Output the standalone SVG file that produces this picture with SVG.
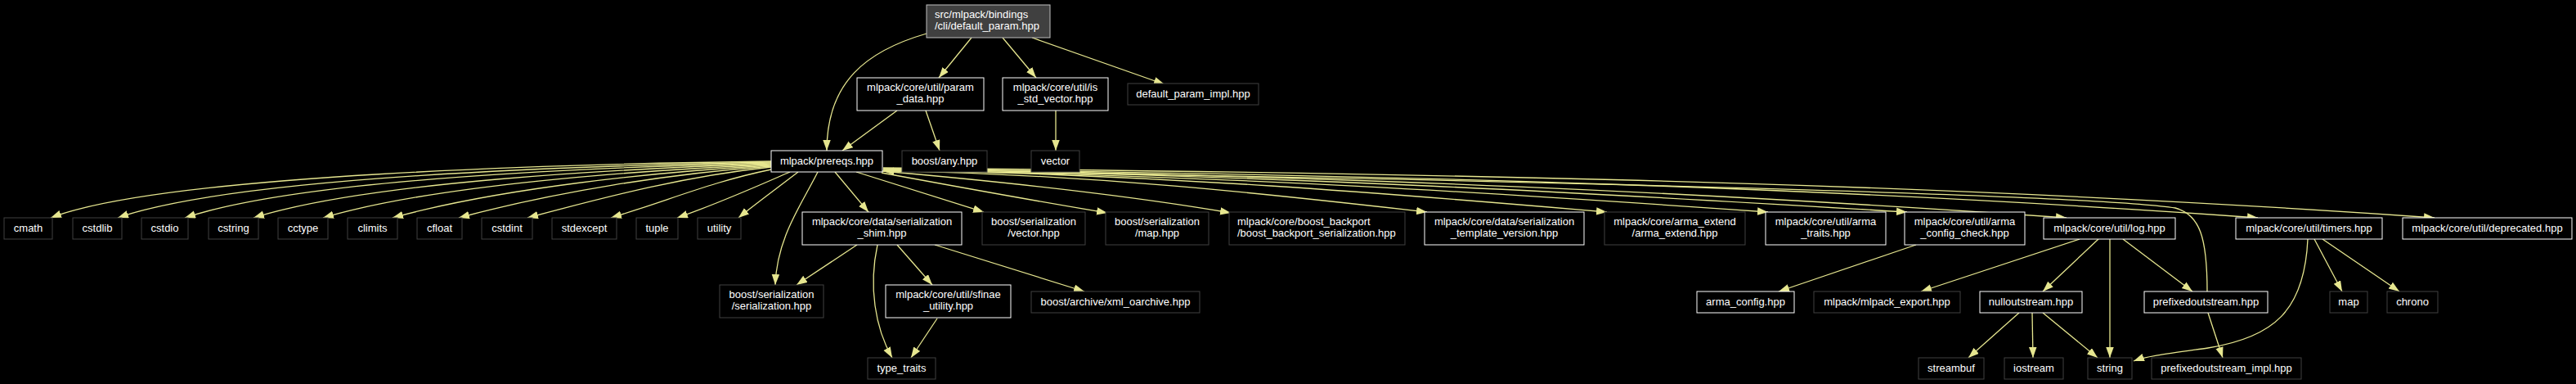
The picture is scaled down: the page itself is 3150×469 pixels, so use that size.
<svg xmlns="http://www.w3.org/2000/svg" width="3150" height="469" viewBox="0 0 3150 469">
<style>
text{font-family:"Liberation Sans",Arial,Helvetica,sans-serif;font-size:13px;fill:#ffffff;text-anchor:middle}
.w{fill:#000000;stroke:#ffffff;stroke-width:1}
.g{fill:#000000;stroke:#404040;stroke-width:1}
.r{fill:#404040;stroke:#bfbfbf;stroke-width:1}
.e{fill:none;stroke:#e6e68f;stroke-width:1.3;marker-end:url(#ah)}
</style>
<defs>
<marker id="ah" markerWidth="14" markerHeight="11" refX="13" refY="4.75" orient="auto" markerUnits="userSpaceOnUse"><path d="M0,0 L13,4.75 L0,9.5 z" fill="#e6e68f"/></marker>
</defs>
<rect x="0" y="0" width="3150" height="469" fill="#000000"/>
<g id="edges">
<path class="e" d="M1133,41 C1060,62 1011,100 1011,184"/>
<path class="e" d="M1188,46 L1148,95"/>
<path class="e" d="M1226,46 L1267,95"/>
<path class="e" d="M1262,46 L1424,103"/>
<path class="e" d="M1097,135 L1030,184"/>
<path class="e" d="M1132,135 L1149,184"/>
<path class="e" d="M1291,135 L1291,184"/>
<path class="e" d="M943,197 C700,200 200,213 62,266"/>
<path class="e" d="M943,198 C720,202 290,215 144,266"/>
<path class="e" d="M943,199 C740,204 370,218 226,266"/>
<path class="e" d="M943,200 C760,206 450,222 310,266"/>
<path class="e" d="M943,201 C780,208 530,226 395,266"/>
<path class="e" d="M943,202 C800,210 610,230 480,266"/>
<path class="e" d="M943,203 C820,212 680,234 561,266"/>
<path class="e" d="M943,204 C840,215 750,238 645,266"/>
<path class="e" d="M943,207 C870,222 820,244 747,266"/>
<path class="e" d="M966,210 C920,230 880,248 828,266"/>
<path class="e" d="M976,210 C950,230 925,248 903,266"/>
<path class="e" d="M1000,210 C980,250 950,290 948,348"/>
<path class="e" d="M1021,210 L1062,259"/>
<path class="e" d="M1047,210 L1203,259"/>
<path class="e" d="M1078,211 C1170,228 1270,246 1354,260"/>
<path class="e" d="M1079,209 C1250,224 1400,242 1505,260"/>
<path class="e" d="M1080,208 C1345,214 1543,236 1745,259"/>
<path class="e" d="M1080,207 C1432,214 1696,236 1965,259"/>
<path class="e" d="M1080,207 C1511,215 1834,236 2162,259"/>
<path class="e" d="M1080,206 C1579,215 1953,236 2332,259"/>
<path class="e" d="M1080,206 C1659,215 2093,236 2527,266"/>
<path class="e" d="M1080,206 C1752,214 2257,230 2761,266"/>
<path class="e" d="M1080,205 C1839,212 2408,226 2977,266"/>
<path class="e" d="M2699,356 C2699,290 2690,262 2660,254 C2550,236 1600,214 1080,209"/>
<path class="e" d="M1048,299 L974,348"/>
<path class="e" d="M1073,299 C1062,350 1070,400 1091,437"/>
<path class="e" d="M1097,299 L1140,348"/>
<path class="e" d="M1143,299 L1326,356"/>
<path class="e" d="M1146,389 L1114,437"/>
<path class="e" d="M2343,299 L2175,356"/>
<path class="e" d="M2543,292 L2349,356"/>
<path class="e" d="M2566,292 L2498,356"/>
<path class="e" d="M2580,292 L2580,437"/>
<path class="e" d="M2596,292 L2681,356"/>
<path class="e" d="M2469,382 L2407,437"/>
<path class="e" d="M2485,382 L2486,437"/>
<path class="e" d="M2498,382 L2565,437"/>
<path class="e" d="M2700,382 L2718,437"/>
<path class="e" d="M2822,292 C2818,380 2780,412 2700,425 C2650,432 2625,435 2609,441"/>
<path class="e" d="M2830,292 L2864,356"/>
<path class="e" d="M2840,292 L2934,356"/>
</g>
<g id="n_root"><rect class="r" x="1133" y="6" width="151" height="40"/><text x="1143" y="21.5" style="text-anchor:start">src/mlpack/bindings</text><text x="1143" y="36" style="text-anchor:start">/cli/default_param.hpp</text></g>
<g id="n_param_data"><rect class="w" x="1048" y="95" width="155" height="40"/><text x="1125.5" y="110.5">mlpack/core/util/param</text><text x="1125.5" y="125">_data.hpp</text></g>
<g id="n_is_std_vector"><rect class="w" x="1226" y="95" width="129" height="40"/><text x="1290.5" y="110.5">mlpack/core/util/is</text><text x="1290.5" y="125">_std_vector.hpp</text></g>
<g id="n_default_param_impl"><rect class="g" x="1379" y="102" width="160" height="26"/><text x="1459" y="119">default_param_impl.hpp</text></g>
<g id="n_prereqs"><rect class="w" x="943" y="184" width="136" height="26"/><text x="1011" y="201">mlpack/prereqs.hpp</text></g>
<g id="n_boost_any"><rect class="g" x="1103" y="184" width="104" height="26"/><text x="1155" y="201">boost/any.hpp</text></g>
<g id="n_vector"><rect class="g" x="1261" y="184" width="59" height="26"/><text x="1290.5" y="201">vector</text></g>
<g id="n_cmath"><rect class="g" x="5" y="266" width="59" height="26"/><text x="34.5" y="283">cmath</text></g>
<g id="n_cstdlib"><rect class="g" x="89" y="266" width="60" height="26"/><text x="119" y="283">cstdlib</text></g>
<g id="n_cstdio"><rect class="g" x="173" y="266" width="57" height="26"/><text x="201.5" y="283">cstdio</text></g>
<g id="n_cstring"><rect class="g" x="255" y="266" width="61" height="26"/><text x="285.5" y="283">cstring</text></g>
<g id="n_cctype"><rect class="g" x="340" y="266" width="61" height="26"/><text x="370.5" y="283">cctype</text></g>
<g id="n_climits"><rect class="g" x="425" y="266" width="61" height="26"/><text x="455.5" y="283">climits</text></g>
<g id="n_cfloat"><rect class="g" x="510" y="266" width="55" height="26"/><text x="537.5" y="283">cfloat</text></g>
<g id="n_cstdint"><rect class="g" x="589" y="266" width="62" height="26"/><text x="620" y="283">cstdint</text></g>
<g id="n_stdexcept"><rect class="g" x="675" y="266" width="79" height="26"/><text x="714.5" y="283">stdexcept</text></g>
<g id="n_tuple"><rect class="g" x="778" y="266" width="51" height="26"/><text x="803.5" y="283">tuple</text></g>
<g id="n_utility"><rect class="g" x="853" y="266" width="53" height="26"/><text x="879.5" y="283">utility</text></g>
<g id="n_shim"><rect class="w" x="981" y="259" width="195" height="40"/><text x="1078.5" y="274.5">mlpack/core/data/serialization</text><text x="1078.5" y="289">_shim.hpp</text></g>
<g id="n_bs_vector"><rect class="g" x="1201" y="259" width="126" height="40"/><text x="1264" y="274.5">boost/serialization</text><text x="1264" y="289">/vector.hpp</text></g>
<g id="n_bs_map"><rect class="g" x="1352" y="259" width="126" height="40"/><text x="1415" y="274.5">boost/serialization</text><text x="1415" y="289">/map.hpp</text></g>
<g id="n_boost_backport"><rect class="g" x="1503" y="259" width="215" height="40"/><text x="1513" y="274.5" style="text-anchor:start">mlpack/core/boost_backport</text><text x="1513" y="289" style="text-anchor:start">/boost_backport_serialization.hpp</text></g>
<g id="n_template_version"><rect class="w" x="1742" y="259" width="195" height="40"/><text x="1839.5" y="274.5">mlpack/core/data/serialization</text><text x="1839.5" y="289">_template_version.hpp</text></g>
<g id="n_arma_extend"><rect class="g" x="1962" y="259" width="172" height="40"/><text x="2048" y="274.5">mlpack/core/arma_extend</text><text x="2048" y="289">/arma_extend.hpp</text></g>
<g id="n_arma_traits"><rect class="w" x="2159" y="259" width="147" height="40"/><text x="2232.5" y="274.5">mlpack/core/util/arma</text><text x="2232.5" y="289">_traits.hpp</text></g>
<g id="n_arma_config_check"><rect class="w" x="2329" y="259" width="147" height="40"/><text x="2402.5" y="274.5">mlpack/core/util/arma</text><text x="2402.5" y="289">_config_check.hpp</text></g>
<g id="n_log"><rect class="w" x="2499" y="266" width="161" height="26"/><text x="2579.5" y="283">mlpack/core/util/log.hpp</text></g>
<g id="n_timers"><rect class="w" x="2734" y="266" width="179" height="26"/><text x="2823.5" y="283">mlpack/core/util/timers.hpp</text></g>
<g id="n_deprecated"><rect class="w" x="2938" y="266" width="207" height="26"/><text x="3041.5" y="283">mlpack/core/util/deprecated.hpp</text></g>
<g id="n_bs_serialization"><rect class="g" x="880" y="348" width="127" height="40"/><text x="943.5" y="363.5">boost/serialization</text><text x="943.5" y="378">/serialization.hpp</text></g>
<g id="n_sfinae"><rect class="w" x="1083" y="348" width="153" height="40"/><text x="1159.5" y="363.5">mlpack/core/util/sfinae</text><text x="1159.5" y="378">_utility.hpp</text></g>
<g id="n_xml_oarchive"><rect class="g" x="1261" y="356" width="206" height="26"/><text x="1364" y="373">boost/archive/xml_oarchive.hpp</text></g>
<g id="n_arma_config"><rect class="w" x="2075" y="356" width="119" height="26"/><text x="2134.5" y="373">arma_config.hpp</text></g>
<g id="n_mlpack_export"><rect class="g" x="2218" y="356" width="179" height="26"/><text x="2307.5" y="373">mlpack/mlpack_export.hpp</text></g>
<g id="n_nulloutstream"><rect class="w" x="2421" y="356" width="125" height="26"/><text x="2483.5" y="373">nulloutstream.hpp</text></g>
<g id="n_prefixedoutstream"><rect class="w" x="2622" y="356" width="151" height="26"/><text x="2697.5" y="373">prefixedoutstream.hpp</text></g>
<g id="n_map"><rect class="g" x="2849" y="356" width="46" height="26"/><text x="2872" y="373">map</text></g>
<g id="n_chrono"><rect class="g" x="2919" y="356" width="62" height="26"/><text x="2950" y="373">chrono</text></g>
<g id="n_type_traits"><rect class="g" x="1061" y="437" width="83" height="26"/><text x="1102.5" y="454">type_traits</text></g>
<g id="n_streambuf"><rect class="g" x="2346" y="437" width="80" height="26"/><text x="2386" y="454">streambuf</text></g>
<g id="n_iostream"><rect class="g" x="2451" y="437" width="72" height="26"/><text x="2487" y="454">iostream</text></g>
<g id="n_string"><rect class="g" x="2553" y="437" width="54" height="26"/><text x="2580" y="454">string</text></g>
<g id="n_prefixedoutstream_impl"><rect class="g" x="2631" y="437" width="183" height="26"/><text x="2722.5" y="454">prefixedoutstream_impl.hpp</text></g>
</svg>
